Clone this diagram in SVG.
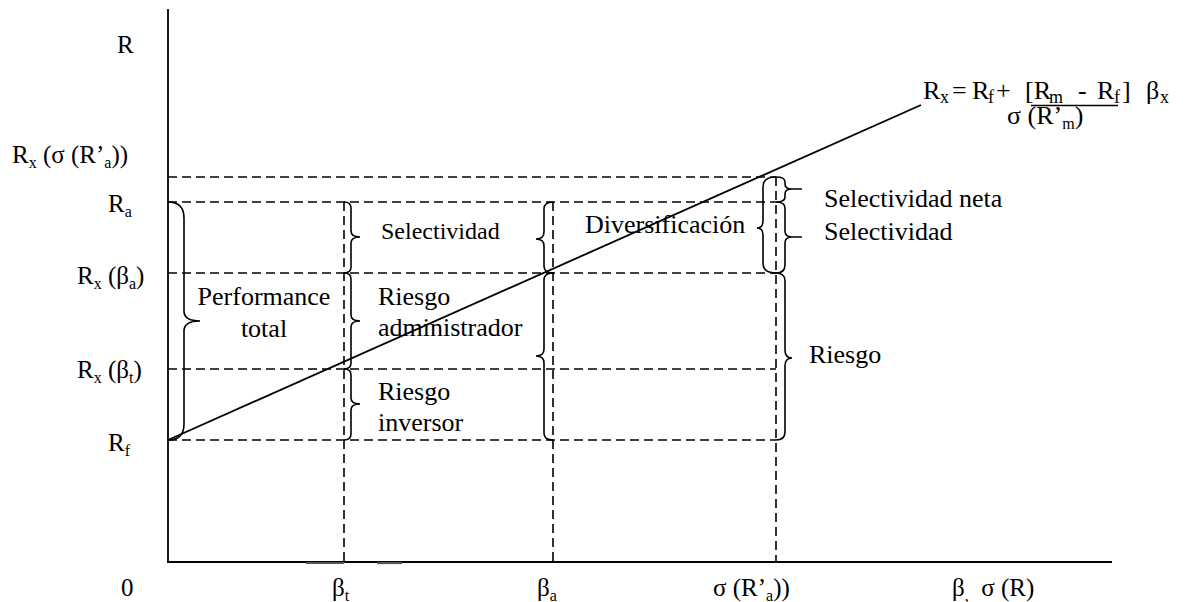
<svg xmlns="http://www.w3.org/2000/svg" width="1195" height="602" viewBox="0 0 1195 602">
<style>
.t{font-family:'Liberation Serif','Times New Roman','DejaVu Serif',serif;fill:#000}
.ax{font-size:25px}
.lb{font-size:26px}
.sb{font-size:16px}
.fs{font-size:18px}
.dash{stroke:#000;stroke-width:1.6;stroke-dasharray:9,5;fill:none}
.solid{stroke:#000;stroke-width:1.8;fill:none}
.br{stroke:#000;stroke-width:1.6;fill:none}
</style>
<rect width="1195" height="602" fill="#fff"/>
<g id="axes">
<line class="solid" x1="168" y1="9" x2="168" y2="563"/>
<line class="solid" x1="167" y1="562" x2="1112" y2="562"/>
<line stroke="#555" stroke-width="2.2" x1="306" y1="563" x2="344" y2="563"/>
<line stroke="#555" stroke-width="2.2" x1="377" y1="563" x2="402" y2="563"/>
</g>
<g id="connectors">
<line class="dash" x1="168" y1="177" x2="776" y2="177"/>
<line class="dash" x1="168" y1="202" x2="776" y2="202"/>
<line class="dash" x1="168" y1="273" x2="776" y2="273"/>
<line class="dash" x1="168" y1="369" x2="776" y2="369"/>
<line class="dash" x1="168" y1="440" x2="776" y2="440"/>
<line class="dash" x1="344" y1="202" x2="344" y2="562"/>
<line class="dash" x1="553" y1="202" x2="553" y2="562"/>
<line class="dash" x1="776" y1="177" x2="776" y2="562"/>
<line class="solid" x1="168" y1="440" x2="921" y2="105"/>
</g>
<g id="braces">
<path id="brace-performance" class="br" d="M168,202 Q184,202 184,218 L184,311 Q184,321 200,321 Q184,321 184,331 L184,424 Q184,440 168,440"/>
<path id="brace-sel1" class="br" d="M344,202 Q351,202 351,208 L351,231 Q351,237 360,237 Q351,237 351,243 L351,267 Q351,273 344,273"/>
<path id="brace-riesgo-adm" class="br" d="M344,273 Q351,273 351,279 L351,315 Q351,321 360,321 Q351,321 351,327 L351,363 Q351,369 344,369"/>
<path id="brace-riesgo-inv" class="br" d="M344,369 Q351,369 351,375 L351,398 Q351,404 360,404 Q351,404 351,410 L351,434 Q351,440 344,440"/>
<path id="brace-sel2" class="br" d="M553,202 Q544,202 544,209 L544,232 Q544,239 536,239 Q544,239 544,246 L544,266 Q544,273 553,273"/>
<path id="brace-riesgo2" class="br" d="M553,273 Q544,273 544,280 L544,349 Q544,356 536,356 Q544,356 544,363 L544,433 Q544,440 553,440"/>
<path id="brace-div" class="br" d="M776,177 Q763,177 763,187 L763,221 Q763,228 757,228 Q763,228 763,235 L763,263 Q763,273 776,273"/>
<path id="brace-selneta" class="br" d="M776,177 Q785,177 785,182 L785,184 Q785,189 792,189 L802,189 M792,189 Q785,189 785,194 L785,197 Q785,202 776,202"/>
<path id="brace-sel3" class="br" d="M776,202 Q785,202 785,208 L785,231 Q785,237 792,237 L802,237 M792,237 Q785,237 785,243 L785,265 Q785,273 776,273"/>
<path id="brace-riesgo3" class="br" d="M776,273 Q785,273 785,281 L785,350 Q785,358 792,358 Q785,358 785,366 L785,432 Q785,440 776,440"/>
</g>
<g id="ylabels">
<text class="t ax" x="117" y="53">R</text>
<text class="t ax" x="12" y="163">R<tspan class="sb" dy="5">x</tspan><tspan dy="-5"> (σ (R’</tspan><tspan class="sb" dy="5">a</tspan><tspan dy="-5">))</tspan></text>
<text class="t ax" x="108" y="212">R<tspan class="sb" dy="5">a</tspan></text>
<text class="t ax" x="77" y="284">R<tspan class="sb" dy="5">x</tspan><tspan dy="-5"> (β</tspan><tspan class="sb" dy="5">a</tspan><tspan dy="-5">)</tspan></text>
<text class="t ax" x="77" y="378">R<tspan class="sb" dy="5">x</tspan><tspan dy="-5"> (β</tspan><tspan class="sb" dy="5">t</tspan><tspan dy="-5">)</tspan></text>
<text class="t ax" x="108" y="451">R<tspan class="sb" dy="5">f</tspan></text>
</g>
<g id="xlabels">
<text class="t ax" x="121" y="596">0</text>
<text class="t ax" x="332" y="596">β<tspan class="sb" dy="5">t</tspan></text>
<text class="t ax" x="537" y="596">β<tspan class="sb" dy="5">a</tspan></text>
<text class="t ax" x="713" y="596">σ (R’<tspan class="sb" dy="5">a</tspan><tspan dy="-5">))</tspan></text>
<text class="t ax" x="952" y="596">β<tspan class="sb" dy="5">,</tspan><tspan x="975" y="596"> σ (R)</tspan></text>
</g>
<g id="formula">
<text class="t lb" x="923" y="99">R<tspan class="fs" x="940" y="103">x</tspan><tspan x="952" y="99">=</tspan><tspan x="972" y="99">R</tspan><tspan class="fs" x="988" y="103">f</tspan><tspan x="996" y="99">+</tspan><tspan x="1025" y="99">[R</tspan><tspan class="fs" x="1049" y="103">m</tspan><tspan x="1078" y="99">-</tspan><tspan x="1097" y="99">R</tspan><tspan class="fs" x="1114" y="103">f</tspan><tspan x="1122" y="99">]</tspan><tspan x="1146" y="99">β</tspan><tspan class="fs" x="1160" y="103">x</tspan></text>
<line stroke="#000" stroke-width="1.4" x1="1031" y1="105.5" x2="1118" y2="105.5"/>
<text class="t lb" x="1007" y="124">σ (R’<tspan class="sb" dy="5">m</tspan><tspan dy="-5">)</tspan></text>
</g>
<g id="labels">
<text class="t lb" x="264" y="305" text-anchor="middle">Performance</text>
<text class="t lb" x="264" y="337" text-anchor="middle">total</text>
<text class="t" x="381" y="239" font-size="24">Selectividad</text>
<text class="t lb" x="378" y="305">Riesgo</text>
<text class="t lb" x="378" y="336">administrador</text>
<text class="t lb" x="378" y="400">Riesgo</text>
<text class="t lb" x="378" y="431">inversor</text>
<text class="t lb" x="585" y="233">Diversificación</text>
<text class="t lb" x="824" y="207">Selectividad neta</text>
<text class="t lb" x="824" y="240">Selectividad</text>
<text class="t lb" x="809" y="363">Riesgo</text>
</g>
</svg>
